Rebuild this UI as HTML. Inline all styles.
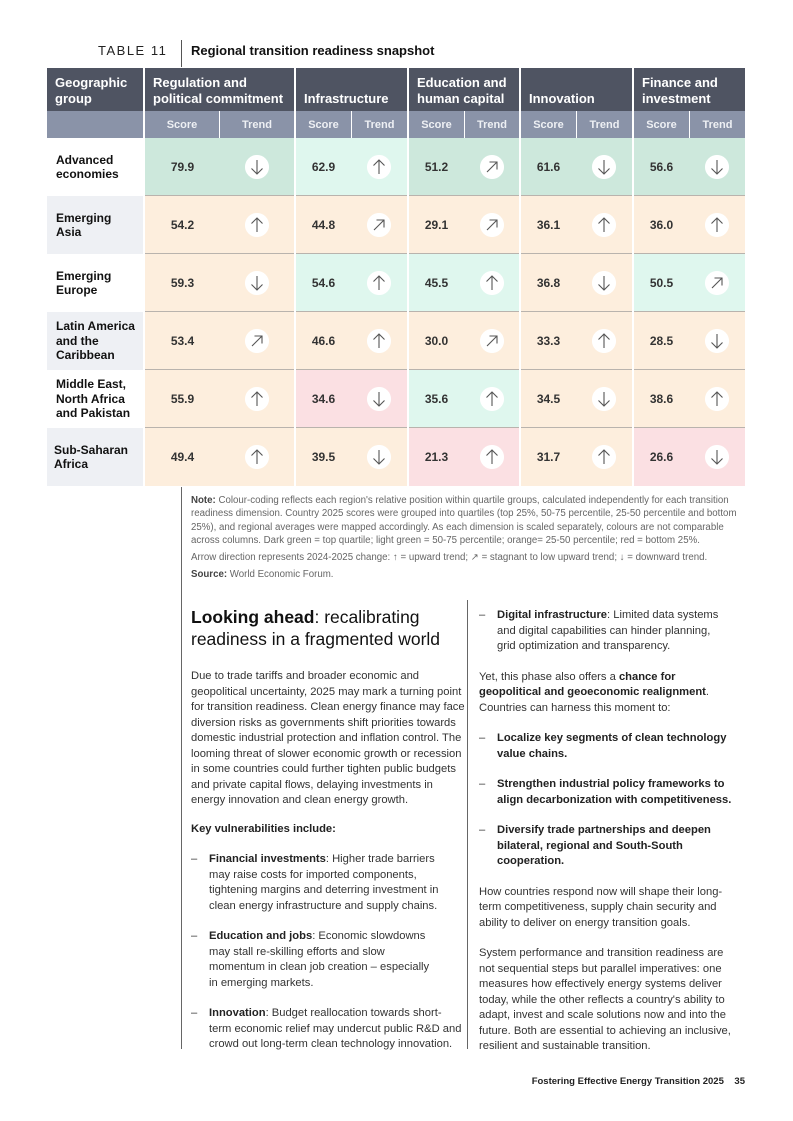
<!DOCTYPE html>
<html><head><meta charset="utf-8">
<style>
*{margin:0;padding:0;box-sizing:border-box}
body{width:793px;height:1121px;background:#fff;position:relative;font-family:"Liberation Sans",Arial,sans-serif;color:#222;overflow:hidden}
.a{position:absolute}
.hd{position:absolute;background:#4f5462;color:#fff;font-weight:bold;font-size:13px;line-height:16px;padding:0 8px;display:flex;align-items:flex-end;padding-bottom:4px}
.sh{position:absolute;background:#8a93a8;color:#eef0f4;font-weight:bold;font-size:11px;display:flex;align-items:center;justify-content:center}
.geo{position:absolute;left:47px;width:96px;height:58px;font-size:12px;font-weight:bold;line-height:14.5px;display:flex;align-items:center;padding-left:9px;color:#111}
.c{position:absolute;height:58px;border-bottom:1px solid #b9b3ad;font-size:12px;font-weight:bold;color:#333}
.s{position:absolute;top:0;height:57px;display:flex;align-items:center;justify-content:center}
.t{position:absolute;top:0;height:57px;display:flex;align-items:center;justify-content:center}
.ic{width:24px;height:24px;border-radius:50%;background:#fff;display:block}
.dg{background:#cde8dc}.lg{background:#dff7ee}.or{background:#fdeedd}.rd{background:#fbe0e3}
.txt{position:absolute;font-size:11.2px;line-height:15.5px;color:#333}
.txt b{color:#222}
.bl{position:relative;padding-left:18px}
.bl:before{content:"–";position:absolute;left:0}
</style></head><body>
<svg width="0" height="0" style="position:absolute">
<defs>
<g id="up"><circle cx="12" cy="12" r="12" fill="#fff"/><path d="M12 19V5M6.5 10.5L12 5l5.5 5.5" stroke="#555" stroke-width="1.1" fill="none"/></g>
<g id="dn"><circle cx="12" cy="12" r="12" fill="#fff"/><path d="M12 5v14M6.5 13.5L12 19l5.5-5.5" stroke="#555" stroke-width="1.1" fill="none"/></g>
<g id="dg"><circle cx="12" cy="12" r="12" fill="#fff"/><path d="M7 17L17 7M9.5 7H17v7.5" stroke="#555" stroke-width="1.1" fill="none"/></g>
</defs></svg>

<div class="a" style="left:98px;top:43px;font-size:13px;letter-spacing:1.5px;color:#222">TABLE 11</div>
<div class="a" style="left:181px;top:40px;width:1px;height:27px;background:#555"></div>
<div class="a" style="left:191px;top:43px;font-size:13px;font-weight:bold;color:#111">Regional transition readiness snapshot</div>

<div class="hd" style="left:47px;top:68px;width:96px;height:43px">Geographic group</div>
<div class="hd" style="left:145px;top:68px;width:149px;height:43px">Regulation and political commitment</div>
<div class="hd" style="left:296px;top:68px;width:111px;height:43px">Infrastructure</div>
<div class="hd" style="left:409px;top:68px;width:110px;height:43px">Education and human capital</div>
<div class="hd" style="left:521px;top:68px;width:111px;height:43px">Innovation</div>
<div class="hd" style="left:634px;top:68px;width:111px;height:43px">Finance and investment</div>

<div class="sh" style="left:47px;top:111px;width:96px;height:27px"></div>
<div class="sh" style="left:145px;top:111px;width:74px;height:27px">Score</div>
<div class="sh" style="left:220px;top:111px;width:74px;height:27px">Trend</div>
<div class="sh" style="left:296px;top:111px;width:55px;height:27px">Score</div>
<div class="sh" style="left:352px;top:111px;width:55px;height:27px">Trend</div>
<div class="sh" style="left:409px;top:111px;width:55px;height:27px">Score</div>
<div class="sh" style="left:465px;top:111px;width:54px;height:27px">Trend</div>
<div class="sh" style="left:521px;top:111px;width:55px;height:27px">Score</div>
<div class="sh" style="left:577px;top:111px;width:55px;height:27px">Trend</div>
<div class="sh" style="left:634px;top:111px;width:55px;height:27px">Score</div>
<div class="sh" style="left:690px;top:111px;width:55px;height:27px">Trend</div>

<div class="a" style="left:0;top:138px;width:793px;height:58px">
<div class="geo" style="top:0;background:#fff">Advanced<br>economies</div>
<div class="c dg" style="left:145px;width:149px"><div class="s" style="left:0;width:75px">79.9</div><div class="t" style="left:75px;width:74px"><svg class="ic"><use href="#dn"/></svg></div></div>
<div class="c lg" style="left:296px;width:111px"><div class="s" style="left:0;width:55px">62.9</div><div class="t" style="left:55px;width:56px"><svg class="ic"><use href="#up"/></svg></div></div>
<div class="c dg" style="left:409px;width:110px"><div class="s" style="left:0;width:55px">51.2</div><div class="t" style="left:55px;width:55px"><svg class="ic"><use href="#dg"/></svg></div></div>
<div class="c dg" style="left:521px;width:111px"><div class="s" style="left:0;width:55px">61.6</div><div class="t" style="left:55px;width:56px"><svg class="ic"><use href="#dn"/></svg></div></div>
<div class="c dg" style="left:634px;width:111px"><div class="s" style="left:0;width:55px">56.6</div><div class="t" style="left:55px;width:56px"><svg class="ic"><use href="#dn"/></svg></div></div>
</div>

<div class="a" style="left:0;top:196px;width:793px;height:58px">
<div class="geo" style="top:0;background:#eef0f4">Emerging<br>Asia</div>
<div class="c or" style="left:145px;width:149px"><div class="s" style="left:0;width:75px">54.2</div><div class="t" style="left:75px;width:74px"><svg class="ic"><use href="#up"/></svg></div></div>
<div class="c or" style="left:296px;width:111px"><div class="s" style="left:0;width:55px">44.8</div><div class="t" style="left:55px;width:56px"><svg class="ic"><use href="#dg"/></svg></div></div>
<div class="c or" style="left:409px;width:110px"><div class="s" style="left:0;width:55px">29.1</div><div class="t" style="left:55px;width:55px"><svg class="ic"><use href="#dg"/></svg></div></div>
<div class="c or" style="left:521px;width:111px"><div class="s" style="left:0;width:55px">36.1</div><div class="t" style="left:55px;width:56px"><svg class="ic"><use href="#up"/></svg></div></div>
<div class="c or" style="left:634px;width:111px"><div class="s" style="left:0;width:55px">36.0</div><div class="t" style="left:55px;width:56px"><svg class="ic"><use href="#up"/></svg></div></div>
</div>

<div class="a" style="left:0;top:254px;width:793px;height:58px">
<div class="geo" style="top:0;background:#fff">Emerging<br>Europe</div>
<div class="c or" style="left:145px;width:149px"><div class="s" style="left:0;width:75px">59.3</div><div class="t" style="left:75px;width:74px"><svg class="ic"><use href="#dn"/></svg></div></div>
<div class="c lg" style="left:296px;width:111px"><div class="s" style="left:0;width:55px">54.6</div><div class="t" style="left:55px;width:56px"><svg class="ic"><use href="#up"/></svg></div></div>
<div class="c lg" style="left:409px;width:110px"><div class="s" style="left:0;width:55px">45.5</div><div class="t" style="left:55px;width:55px"><svg class="ic"><use href="#up"/></svg></div></div>
<div class="c or" style="left:521px;width:111px"><div class="s" style="left:0;width:55px">36.8</div><div class="t" style="left:55px;width:56px"><svg class="ic"><use href="#dn"/></svg></div></div>
<div class="c lg" style="left:634px;width:111px"><div class="s" style="left:0;width:55px">50.5</div><div class="t" style="left:55px;width:56px"><svg class="ic"><use href="#dg"/></svg></div></div>
</div>

<div class="a" style="left:0;top:312px;width:793px;height:58px">
<div class="geo" style="top:0;background:#eef0f4">Latin America<br>and the<br>Caribbean</div>
<div class="c or" style="left:145px;width:149px"><div class="s" style="left:0;width:75px">53.4</div><div class="t" style="left:75px;width:74px"><svg class="ic"><use href="#dg"/></svg></div></div>
<div class="c or" style="left:296px;width:111px"><div class="s" style="left:0;width:55px">46.6</div><div class="t" style="left:55px;width:56px"><svg class="ic"><use href="#up"/></svg></div></div>
<div class="c or" style="left:409px;width:110px"><div class="s" style="left:0;width:55px">30.0</div><div class="t" style="left:55px;width:55px"><svg class="ic"><use href="#dg"/></svg></div></div>
<div class="c or" style="left:521px;width:111px"><div class="s" style="left:0;width:55px">33.3</div><div class="t" style="left:55px;width:56px"><svg class="ic"><use href="#up"/></svg></div></div>
<div class="c or" style="left:634px;width:111px"><div class="s" style="left:0;width:55px">28.5</div><div class="t" style="left:55px;width:56px"><svg class="ic"><use href="#dn"/></svg></div></div>
</div>

<div class="a" style="left:0;top:370px;width:793px;height:58px">
<div class="geo" style="top:0;background:#fff">Middle East,<br>North Africa<br>and Pakistan</div>
<div class="c or" style="left:145px;width:149px"><div class="s" style="left:0;width:75px">55.9</div><div class="t" style="left:75px;width:74px"><svg class="ic"><use href="#up"/></svg></div></div>
<div class="c rd" style="left:296px;width:111px"><div class="s" style="left:0;width:55px">34.6</div><div class="t" style="left:55px;width:56px"><svg class="ic"><use href="#dn"/></svg></div></div>
<div class="c lg" style="left:409px;width:110px"><div class="s" style="left:0;width:55px">35.6</div><div class="t" style="left:55px;width:55px"><svg class="ic"><use href="#up"/></svg></div></div>
<div class="c or" style="left:521px;width:111px"><div class="s" style="left:0;width:55px">34.5</div><div class="t" style="left:55px;width:56px"><svg class="ic"><use href="#dn"/></svg></div></div>
<div class="c or" style="left:634px;width:111px"><div class="s" style="left:0;width:55px">38.6</div><div class="t" style="left:55px;width:56px"><svg class="ic"><use href="#up"/></svg></div></div>
</div>

<div class="a" style="left:0;top:428px;width:793px;height:58px">
<div class="geo" style="top:0;background:#eef0f4;padding-left:7px">Sub-Saharan<br>Africa</div>
<div class="c or" style="left:145px;width:149px;border:0"><div class="s" style="left:0;width:75px">49.4</div><div class="t" style="left:75px;width:74px"><svg class="ic"><use href="#up"/></svg></div></div>
<div class="c or" style="left:296px;width:111px;border:0"><div class="s" style="left:0;width:55px">39.5</div><div class="t" style="left:55px;width:56px"><svg class="ic"><use href="#dn"/></svg></div></div>
<div class="c rd" style="left:409px;width:110px;border:0"><div class="s" style="left:0;width:55px">21.3</div><div class="t" style="left:55px;width:55px"><svg class="ic"><use href="#up"/></svg></div></div>
<div class="c or" style="left:521px;width:111px;border:0"><div class="s" style="left:0;width:55px">31.7</div><div class="t" style="left:55px;width:56px"><svg class="ic"><use href="#up"/></svg></div></div>
<div class="c rd" style="left:634px;width:111px;border:0"><div class="s" style="left:0;width:55px">26.6</div><div class="t" style="left:55px;width:56px"><svg class="ic"><use href="#dn"/></svg></div></div>
</div>

<div class="a" style="left:181px;top:487px;width:1px;height:562px;background:#666"></div>
<div class="a" style="left:467px;top:600px;width:1px;height:449px;background:#666"></div>

<div class="a" style="left:191px;top:494px;width:556px;font-size:9.7px;line-height:13.3px;color:#666">
<b style="color:#444">Note:</b> Colour-coding reflects each region's relative position within quartile groups, calculated independently for each transition readiness dimension. Country 2025 scores were grouped into quartiles (top 25%, 50-75 percentile, 25-50 percentile and bottom 25%), and regional averages were mapped accordingly. As each dimension is scaled separately, colours are not comparable across columns. Dark green = top quartile; light green = 50-75 percentile; orange= 25-50 percentile; red = bottom 25%.
<div style="margin-top:4px">Arrow direction represents 2024-2025 change: ↑ = upward trend; ↗ = stagnant to low upward trend; ↓ = downward trend.</div>
<div style="margin-top:4px"><b style="color:#444">Source:</b> World Economic Forum.</div>
</div>

<div class="a" style="left:191px;top:607px;font-size:17.5px;line-height:21.5px;color:#111"><b>Looking ahead</b>: recalibrating<br>readiness in a fragmented world</div>
<div class="txt" style="left:191px;top:669px;width:275px">
Due to trade tariffs and broader economic and geopolitical uncertainty, 2025 may mark a turning point for transition readiness. Clean energy finance may face diversion risks as governments shift priorities towards domestic industrial protection and inflation control. The looming threat of slower economic growth or recession in some countries could further tighten public budgets and private capital flows, delaying investments in energy innovation and clean energy growth.
<div style="margin-top:13px"><b>Key vulnerabilities include:</b></div>
<div class="bl" style="margin-top:15px;width:262px">
<b>Financial investments</b>: Higher trade barriers may raise costs for imported components, tightening margins and deterring investment in clean energy infrastructure and supply chains.</div>
<div class="bl" style="margin-top:15px;width:280px;white-space:nowrap"><b>Education and jobs</b>: Economic slowdowns<br>may stall re-skilling efforts and slow<br>momentum in clean job creation – especially<br>in emerging markets.</div>
<div class="bl" style="margin-top:15px;width:272px"><b>Innovation</b>: Budget reallocation towards short-term economic relief may undercut public R&amp;D and crowd out long-term clean technology innovation.</div>
</div>

<div class="txt" style="left:479px;top:608px;width:262px">
<div class="bl" style="width:250px"><b>Digital infrastructure</b>: Limited data systems and digital capabilities can hinder planning, grid optimization and transparency.</div>
<div style="margin-top:15px;width:240px">Yet, this phase also offers a <b>chance for geopolitical and geoeconomic realignment</b>. Countries can harness this moment to:</div>
<div class="bl" style="margin-top:15px;width:262px"><b>Localize key segments of clean technology value chains.</b></div>
<div class="bl" style="margin-top:15px;width:262px"><b>Strengthen industrial policy frameworks to align decarbonization with competitiveness.</b></div>
<div class="bl" style="margin-top:15px;width:240px"><b>Diversify trade partnerships and deepen bilateral, regional and South-South cooperation.</b></div>
<div style="margin-top:15px;width:258px">How countries respond now will shape their long-term competitiveness, supply chain security and ability to deliver on energy transition goals.</div>
<div style="margin-top:15px;width:262px">System performance and transition readiness are not sequential steps but parallel imperatives: one measures how effectively energy systems deliver today, while the other reflects a country's ability to adapt, invest and scale solutions now and into the future. Both are essential to achieving an inclusive, resilient and sustainable transition.</div>
</div>

<div class="a" style="left:500px;top:1076px;width:245px;text-align:right;font-size:9.5px;font-weight:bold;color:#222">Fostering Effective Energy Transition 2025&nbsp;&nbsp;&nbsp;&nbsp;35</div>
</body></html>
